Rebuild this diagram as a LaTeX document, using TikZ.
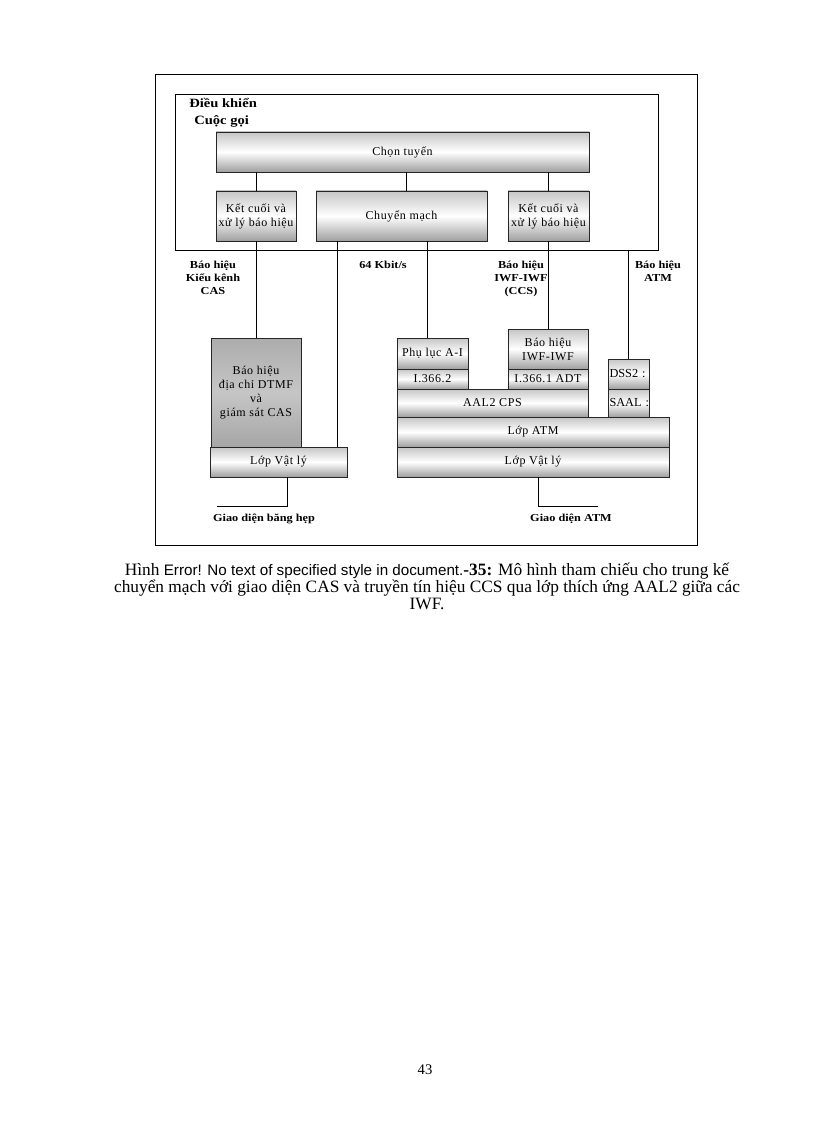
\documentclass[tikz,border=0pt]{standalone}
\usepackage{fontspec}
\setmainfont{Liberation Serif}
\newfontfamily\boxfont[LetterSpace=5]{Liberation Serif}
\newfontfamily\tagfont[FakeStretch=1.15]{Liberation Serif}
\newfontfamily\errfont{Liberation Sans}
\usepackage{tikz}

\begin{document}
\begin{tikzpicture}[x=0.75pt,y=-0.75pt,
	wire/.style={line width=0.6pt},
	frame/.style={draw, line width=0.6pt, inner sep=0pt},
	layer/.style={draw=black!85, line width=0.6pt, top color=gray!45, bottom color=gray!75, middle color=white, inner sep=0pt, align=center, font=\boxfont\fontsize{9}{10.5}\selectfont},
	darklayer/.style={layer, top color=gray!65, bottom color=gray!70, middle color=gray!45},
	narrow/.style={layer, align=left, text width=38*0.75pt, font=\fontsize{9.2}{10}\selectfont},
	wh/.style 2 args={minimum width=#1*0.75pt, minimum height=#2*0.75pt},
	tag/.style={inner sep=0pt, align=center, font=\tagfont\bfseries\fontsize{8}{9.75}\selectfont}]
	\useasboundingbox (0,0) rectangle (816,1123);
	
	% frames
	\draw[wire] (155,74) rectangle (697,545);
	\node[frame, wh={483}{156}] (ctrl) at (416.5,172) {};
	\node[tag, anchor=north west, font=\tagfont\bfseries\fontsize{9.5}{11}\selectfont] (ctrlA) at (189,98) {Điều khiển};
	\node[tag, anchor=north west, font=\tagfont\bfseries\fontsize{9.5}{11}\selectfont] (ctrlB) at (194,115) {Cuộc gọi};
	
	% call control
	\node[layer, wh={373}{40}] (route) at (402.5,152) {Chọn tuyến};
	\node[layer, wh={80}{50}] (kcL) at (256,216) {Kết cuối và\\xử lý báo hiệu};
	\node[layer, wh={171}{50}] (sw) at (401.5,216) {Chuyển mạch};
	\node[layer, wh={81}{50}] (kcR) at (548.5,216) {Kết cuối và\\xử lý báo hiệu};
	
	% narrowband side
	\node[darklayer, wh={90}{109}] (dtmf) at (256,392.5) {Báo hiệu\\địa chỉ DTMF\\và\\giám sát CAS};
	\node[layer, wh={137}{30}] (phyL) at (278.5,462) {Lớp Vật lý};
	
	% ATM side
	\node[layer, wh={71}{31}] (annex) at (432.5,353.5) {Phụ lục A-I};
	\node[layer, wh={71}{20}] (i3662) at (432.5,379) {I.366.2};
	\node[layer, wh={80}{40}] (iwf) at (548,349) {Báo hiệu\\IWF-IWF};
	\node[layer, wh={80}{20}] (i3661) at (548,379) {I.366.1 ADT};
	\node[narrow, wh={41}{30}] (dss) at (628.5,374) {\makebox[\linewidth][l]{DSS2 :}};
	\node[narrow, wh={41}{28}] (saal) at (628.5,403) {\makebox[\linewidth][l]{SAAL :}};
	\node[layer, wh={191}{28}] (cps) at (492.5,403) {AAL2 CPS};
	\node[layer, wh={272}{30}] (atm) at (533,432) {Lớp ATM};
	\node[layer, wh={272}{30}] (phyR) at (533,462) {Lớp Vật lý};
	
	% taps
	\coordinate (swtap) at (406,0);
	\coordinate (tdmL) at (337,0);
	\coordinate (tdmR) at (427,0);
	\coordinate (nb) at (287,506);
	\coordinate (nbL) at (217,506);
	\coordinate (aif) at (538,506);
	\coordinate (aifR) at (598,506);
	
	\draw[wire] (route.south -| kcL) -- (kcL);
	\draw[wire] (route.south -| swtap) -- (sw.north -| swtap);
	\draw[wire] (route.south -| kcR) -- (kcR);
	\draw[wire] (kcL) -- (dtmf);
	\draw[wire] (sw.south -| tdmL) -- (phyL.north -| tdmL);
	\draw[wire] (sw.south -| tdmR) -- (annex.north -| tdmR);
	\draw[wire] (kcR.south) -- (kcR.south |- iwf.north);
	\draw[wire] (ctrl.south -| dss) -- (dss.north);
	\draw[wire] (phyL.south -| nb) -- (nb) -- (nbL);
	\draw[wire] (phyR.south -| aif) -- (aif) -- (aifR);
	
	% labels
	\node[tag, anchor=north] (casLbl) at (213,261) {Báo hiệu\\Kiểu kênh\\CAS};
	\node[tag, anchor=north] (rateLbl) at (383,261) {64 Kbit/s};
	\node[tag, anchor=north] (ccsLbl) at (521,261) {Báo hiệu\\IWF-IWF\\(CCS)};
	\node[tag, anchor=north] (atmLbl) at (658,261) {Báo hiệu\\ATM};
	\node[tag] (nbLbl) at (264,519) {Giao diện băng hẹp};
	\node[tag] (atmIfLbl) at (571,519) {Giao diện ATM};
	
	% caption
	\node[align=center, inner sep=0pt, font=\fontsize{13}{11.25}\selectfont] (cap) at (427,586) {Hình {\errfont\fontsize{11.4}{11.25}\selectfont Error! No text of specified style in document.}\textbf{-35:} Mô hình tham chiếu cho trung kế\\chuyển mạch với giao diện CAS và truyền tín hiệu CCS qua lớp thích ứng AAL2 giữa các\\IWF.};
	\node[font=\fontsize{11}{13}\selectfont] (page) at (425,1070) {43};
\end{tikzpicture}
\end{document}
